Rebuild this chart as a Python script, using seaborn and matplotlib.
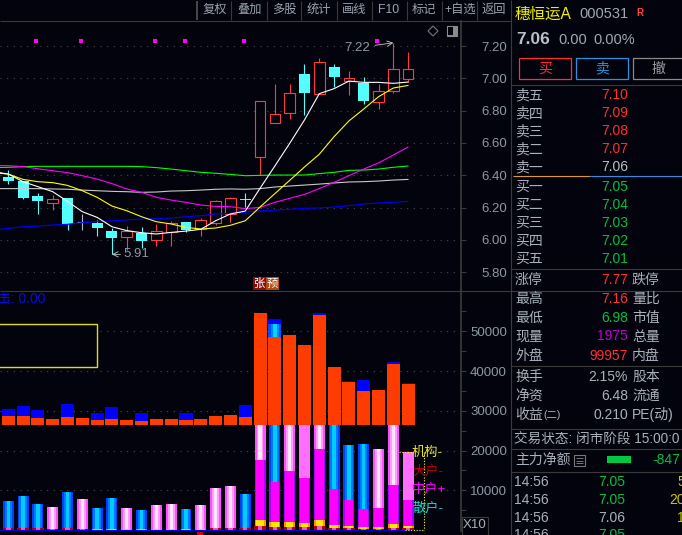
import numpy as np
import seaborn as sns
import matplotlib
matplotlib.use("Agg")
import matplotlib.pyplot as plt
from matplotlib.patches import Rectangle, Polygon

W, H = 682, 535
BG = "#03030d"
GRID = "#4a4a4a"
FRAME = "#3a3a3a"
LABEL = "#8d97a3"

# candles, index 0 is the leftmost one
opens = [6.391, 6.364, 6.271, 6.230, 6.259, 6.108, 6.106, 6.055, 6.020, 6.042, 6.001, 6.048, 6.110, 6.065,
         6.106, 6.158, 6.255, 6.510, 6.725, 6.787, 7.027, 6.905, 7.070, 6.983, 6.973, 6.855, 6.923, 6.998]
closes = [6.364, 6.259, 6.240, 6.251, 6.098, 6.108, 6.073, 6.013, 6.055, 5.995, 6.052, 6.102, 6.061, 6.123,
          6.238, 6.257, 6.245, 6.857, 6.777, 6.907, 6.911, 7.099, 7.008, 7.000, 6.861, 6.919, 7.055, 7.055]
highs = [6.432, 6.364, 6.288, 6.275, 6.259, 6.158, 6.121, 6.071, 6.085, 6.077, 6.098, 6.114, 6.110, 6.135,
         6.246, 6.265, 6.288, 6.857, 6.965, 6.965, 7.087, 7.126, 7.087, 7.045, 7.008, 6.965, 7.220, 7.160]
lows = [6.343, 6.253, 6.162, 6.187, 6.061, 6.061, 6.024, 5.910, 5.937, 5.947, 5.962, 5.962, 6.050, 6.024,
        6.092, 6.110, 6.205, 6.401, 6.725, 6.748, 6.773, 6.905, 6.944, 6.897, 6.843, 6.812, 6.911, 6.980]

# moving averages, these start one candle before the left edge
ma_days = list(range(-1, 28))
ma_white = [6.422, 6.407, 6.360, 6.329, 6.298, 6.238, 6.174, 6.139, 6.081, 6.057, 6.044, 6.036, 6.046, 6.054, 6.065,
            6.118, 6.160, 6.178, 6.319, 6.457, 6.597, 6.742, 6.905, 6.936, 6.983, 6.975, 6.975, 6.969, 6.977]
ma_yellow = [6.416, 6.407, 6.374, 6.360, 6.354, 6.337, 6.304, 6.263, 6.209, 6.180, 6.143, 6.112, 6.098, 6.077, 6.067,
             6.073, 6.090, 6.118, 6.203, 6.286, 6.368, 6.451, 6.530, 6.639, 6.736, 6.810, 6.886, 6.940, 6.956]
ma_magenta = [6.461, 6.459, 6.453, 6.440, 6.428, 6.416, 6.397, 6.376, 6.348, 6.315, 6.294, 6.263, 6.246, 6.232, 6.215,
              6.207, 6.205, 6.193, 6.201, 6.232, 6.257, 6.281, 6.317, 6.356, 6.397, 6.438, 6.476, 6.525, 6.575]
ma_green = [6.447, 6.449, 6.453, 6.455, 6.455, 6.455, 6.455, 6.455, 6.455, 6.455, 6.453, 6.447, 6.438, 6.428, 6.418,
            6.412, 6.405, 6.397, 6.399, 6.401, 6.401, 6.401, 6.410, 6.418, 6.430, 6.432, 6.438, 6.449, 6.457]
ma_gray = [6.317, 6.317, 6.317, 6.317, 6.315, 6.313, 6.308, 6.304, 6.300, 6.298, 6.294, 6.296, 6.302, 6.304, 6.308,
           6.313, 6.315, 6.313, 6.317, 6.327, 6.333, 6.339, 6.345, 6.352, 6.358, 6.360, 6.364, 6.370, 6.374]
ma_blue = [6.061, 6.071, 6.081, 6.085, 6.092, 6.096, 6.106, 6.112, 6.118, 6.123, 6.129, 6.131, 6.135, 6.143, 6.149,
           6.160, 6.164, 6.170, 6.180, 6.184, 6.189, 6.195, 6.197, 6.203, 6.211, 6.222, 6.228, 6.232, 6.238]

signal_days = [2, 5, 10, 12, 16, 25]
signal_price = [7.231] * 6

# upper volume block
up_orange = [28680, 28680, 28177, 27925, 28429, 28177, 27674, 27925, 27674, 27422, 27925, 27925, 27674, 27925,
             28680, 28932, 28429, 54593, 48555, 49058, 46542, 54090, 41008, 37234, 34970, 35221, 41762, 36647]
up_blue = [30441, 31196, 30190, 0, 31699, 0, 29435, 30944, 0, 29435, 0, 0, 29435, 0,
           0, 0, 31448, 0, 53083, 0, 0, 54593, 0, 37485, 37737, 0, 42265, 36982]
up_cyan = [0] * 18 + [51825] + [0] * 9

# lower volume block, the tall ones run into the block above
low_blue = [7296, 8554, 6541, 0, 9560, 0, 5535, 8051, 0, 5032, 0, 0, 5283, 0,
            0, 0, 9057, 0, 26400, 0, 0, 0, 26400, 21384, 21636, 0, 0, 0]
low_pink = [0, 0, 0, 5786, 0, 7799, 0, 0, 5535, 0, 6290, 6541, 0, 6290,
            10566, 11070, 0, 26400, 0, 26400, 0, 26400, 0, 0, 0, 20378, 26400, 0]
low_flat = [0] * 20 + [26400] + [0] * 6 + [19623]
low_magenta = [0] * 17 + [17611, 12076, 14843, 13082, 20378, 10315, 7547, 5283, 5535, 11321, 7547]
low_yellow = [0, 0, 0, 0, 0, 0, 252, 252, 252, 252, 252, 252, 252, 252,
              0, 0, 0, 2516, 2013, 2013, 1761, 2516, 1258, 1006, 755, 755, 1509, 1006]
low_red = [419, 419, 419, 252, 419, 252, 0, 0, 0, 0, 0, 0, 0, 0,
           419, 419, 419, 1006, 755, 755, 755, 1006, 503, 503, 252, 252, 503, 587]

price_ticks = [5.8, 6.0, 6.2, 6.4, 6.6, 6.8, 7.0, 7.2]
header_labels = ["复权", "叠加", "多股", "统计", "画线", "F10", "标记", "+自选", "返回"]
ask_names = ["卖五", "卖四", "卖三", "卖二", "卖一"]
ask_prices = ["7.10", "7.09", "7.08", "7.07", "7.06"]
bid_names = ["买一", "买二", "买三", "买四", "买五"]
bid_prices = ["7.05", "7.04", "7.03", "7.02", "7.01"]

sns.set_theme(style="dark", rc={"figure.facecolor": BG, "axes.facecolor": BG, "savefig.facecolor": BG})
plt.rcParams["font.family"] = ["Liberation Sans", "Noto Sans CJK SC"]

days = np.arange(len(opens))
fig = plt.figure(figsize=(W / 100, H / 100), dpi=100)


def panel(x0, y0, x1, y1):
    return fig.add_axes([x0 / W, 1 - y1 / H, (x1 - x0) / W, (y1 - y0) / H])


def style_axis(ax, ticks, minor=()):
    for side in ["left", "top", "bottom"]:
        ax.spines[side].set_visible(False)
    ax.spines["right"].set_color(FRAME)
    ax.set_xlim(-0.56, 30.57)
    ax.set_xticks([])
    ax.set_xlabel("")
    ax.set_ylabel("")
    ax.yaxis.tick_right()
    ax.set_yticks(ticks)
    ax.set_yticks(list(minor), minor=True)
    ax.tick_params(axis="y", which="both", length=3.6, color=FRAME, width=0.8, right=True, left=False)
    ax.tick_params(axis="y", which="major", labelcolor=LABEL, labelsize=9.5, pad=29.5)
    ax.grid(True, axis="y", color=GRID, linewidth=0.8, linestyle=(0, (1, 5)))
    ax.set_axisbelow(True)


def bars(ax, values, layers):
    # nested bars fake the horizontal gradient of the original
    for width, color in layers:
        sns.barplot(x=days, y=values, native_scale=True, width=width, color=color, saturation=1,
                    linewidth=0, errorbar=None, ax=ax)


# price panel
ax = panel(0, 21, 461, 291)
for i in days:
    if closes[i] > opens[i]:
        col = "#ff3c3c"
    elif closes[i] < opens[i]:
        col = "#54ffff"
    else:
        col = "#b4b4c4"
    ax.vlines(i, lows[i], highs[i], color=col, linewidth=0.8, zorder=2)
    if closes[i] > opens[i]:
        ax.bar(i, closes[i] - opens[i], 0.72, bottom=opens[i], facecolor=BG, edgecolor=col, linewidth=0.8, zorder=3)
    elif closes[i] < opens[i]:
        ax.bar(i, opens[i] - closes[i], 0.74, bottom=closes[i], color=col, linewidth=0, zorder=3)
    else:
        ax.hlines(opens[i], i - 0.37, i + 0.37, color=col, linewidth=0.8, zorder=3)

for series, col in [(ma_blue, "#0000ff"), (ma_gray, "#c8c8c8"), (ma_green, "#00ff00"),
                    (ma_magenta, "#ff00ff"), (ma_yellow, "#ffff00"), (ma_white, "#ffffff")]:
    sns.lineplot(x=ma_days, y=series, color=col, linewidth=0.8, errorbar=None, ax=ax, zorder=4)

sns.scatterplot(x=np.array(signal_days) - 0.1, y=signal_price, marker="s", s=6, color="#ff00ff", linewidth=0,
                ax=ax, zorder=4)
ax.annotate("7.22", xy=(26, 7.22), xytext=(-16.5, -3.6), textcoords="offset points", color=LABEL, fontsize=9.5,
            ha="right", va="center", arrowprops=dict(arrowstyle="->", color="#c8c8c8", lw=0.6, shrinkA=1, shrinkB=0))
ax.annotate("5.91", xy=(7, 5.91), xytext=(8.5, 0), textcoords="offset points", color=LABEL, fontsize=9.5,
            ha="left", va="center", arrowprops=dict(arrowstyle="->", color="#c8c8c8", lw=0.6, shrinkA=0, shrinkB=0))
ax.set_ylim(5.683, 7.355)
style_axis(ax, price_ticks)
ax.set_yticklabels([f"{v:.2f}" for v in price_ticks], ha="right")

# volume panel, upper block floats on its own axis
base = 26415
ax_up = panel(0, 291, 461, 425)
bars(ax_up, up_blue, [(0.88, "#0000ff")])
bars(ax_up, up_cyan, [(0.88, "#0050ff"), (0.5, "#0088ff"), (0.26, "#00d8ff")])
bars(ax_up, up_orange, [(0.88, "#ff3c00")])
ax_up.set_ylim(base, 60126)
style_axis(ax_up, [30000, 40000, 50000], [35000, 45000, 55000])
ax_up.set_yticklabels(["30000", "40000", "50000"], ha="right")
ax_up.add_patch(Rectangle((-1, 41000), 7.0, 10800, facecolor=BG, edgecolor="#dcdc1e", linewidth=1, zorder=6))

ax_low = panel(0, 425, 461, 531)
bars(ax_low, low_blue, [(0.74, "#0040ff"), (0.5, "#0078ff"), (0.24, "#00ccff")])
bars(ax_low, low_pink, [(0.74, "#ff50ff"), (0.46, "#ff9cff"), (0.22, "#ffe6ff")])
bars(ax_low, low_flat, [(0.74, "#ff6eff")])
bars(ax_low, low_magenta, [(0.74, "#aa00ff"), (0.58, "#ff00ff")])
bars(ax_low, low_yellow, [(0.74, "#ff9000"), (0.5, "#ffe800")])
bars(ax_low, low_red, [(0.78, "#b00000"), (0.3, "#ff50c8")])
ax_low.axhline(0, color="#0000e0", linewidth=0.8, xmax=0.89, zorder=5)
ax_low.set_ylim(-250, base)
style_axis(ax_low, [10000, 20000], [5000, 15000, 25000])
ax_low.set_yticklabels(["10000", "20000"], ha="right")

# everything else sits on a pixel overlay
ui = fig.add_axes([0, 0, 1, 1], facecolor="none", zorder=5)
ui.set_xlim(0, W)
ui.set_ylim(H, 0)
ui.axis("off")


def put(x, y, s, color="#a9b1ba", ha="left", size=10, **kw):
    ui.text(x, y, s, color=color, ha=ha, va="center", fontsize=size, **kw)


def hline(y, x0=0, x1=W, color=FRAME, lw=0.8, **kw):
    ui.plot([x0, x1], [y, y], color=color, linewidth=lw, solid_capstyle="butt", **kw)


def vline(x, y0, y1, color=FRAME, lw=0.8, **kw):
    ui.plot([x, x], [y0, y1], color=color, linewidth=lw, solid_capstyle="butt", **kw)


hline(20.5, 0, 511)
hline(291)
vline(197, 1, 20, "#555555", 1.2)
for x in [231, 267, 301, 337, 372, 407, 442, 477]:
    vline(x, 1, 20)
for x, s in zip([215, 250, 284, 319, 354, 389, 424, 460, 494], header_labels):
    put(x, 10, s, "#9aa3ad", ha="center", size=8.8)
vline(511, 0, H)

# top right icons of the chart
ui.add_patch(Polygon([(433, 26), (438, 31), (433, 36), (428, 31)], fill=False, edgecolor="#777777", linewidth=0.8))
ui.add_patch(Rectangle((447, 26), 10, 10, facecolor="#8a8a8a", edgecolor="#8a8a8a", linewidth=0.8))
ui.add_patch(Rectangle((448, 27), 5, 8, facecolor=BG, linewidth=0))

# 涨预 badge
ui.add_patch(Rectangle((253, 277), 13, 13, facecolor="#8a0c0c", linewidth=0))
ui.add_patch(Rectangle((266, 277), 13, 13, facecolor="#b04a10", linewidth=0))
put(259.5, 283.5, "张", "#ffffff", ha="center", size=8.2)
put(272.5, 283.5, "预", "#ffffff", ha="center", size=8.2)

put(-3, 299, "击: 0.00", "#0a0ae0", size=10)
dots = (0, (1, 1.5))
put(412, 453, "机构-", "#e6e61e", size=9.5)
put(412, 471, "大户-", "#c00000", size=9.5)
put(412, 490, "中户+", "#ff00ff", size=9.5)
put(412, 509, "散户-", "#00e0e0", size=9.5)
vline(424, 452, 530, "#ffff00", linestyle=dots)
hline(452, 399, 412, "#ffff00", linestyle=dots)
hline(530, 405, 424, "#ffff00", linestyle=dots)
ui.add_patch(Rectangle((197, 532), 6, 3, facecolor="#d00000", linewidth=0))
ui.add_patch(Rectangle((462, 517), 26, 20, facecolor=BG, edgecolor=FRAME, linewidth=0.8))
put(475, 525, "X10", "#a9b1ba", ha="center", size=9.5)

# quote panel
put(515, 14, "穗恒运A", "#f0f000", size=11.2)
put(579, 14, "000531", "#a0a9b3", size=10.5)
put(636, 13, "R", "#ff4040", size=7, fontweight="bold")
put(516, 39, "7.06", "#b9c0c8", size=12.5, fontweight="bold")
put(558, 40, "0.00", "#a0a9b3", size=10.5)
put(593, 40, "0.00%", "#a0a9b3", size=10.5)

for x0, x1, col, s, tcol in [(519, 571, "#ff3030", "买", "#ff3030"), (576, 628, "#2f8fe0", "卖", "#2f8fe0"),
                             (633, 684, "#8a8a8a", "撤", "#9a9a9a")]:
    ui.add_patch(Rectangle((x0, 58), x1 - x0, 21, fill=False, edgecolor=col, linewidth=0.9))
    put((x0 + x1) / 2, 68.5, s, tcol, ha="center", size=10)

hline(85, 511, W)
hline(176, 513, 590, "#e09a20")
hline(176, 590, W, "#2f8fe0")
hline(269, 511, W)

ask_y = [95, 113, 131, 149, 167]
for y, name, p in zip(ask_y, ask_names, ask_prices):
    put(515, y, name)
    put(628, y, p, "#ff3030" if p != "7.06" else "#b9c0c8", ha="right")
bid_y = [187, 205, 223, 241, 259]
for y, name, p in zip(bid_y, bid_names, bid_prices):
    put(515, y, name)
    put(628, y, p, "#00c040", ha="right")

rows = [(280, "涨停", "7.77", "#ff3030", "跌停"), (299, "最高", "7.16", "#ff3030", "量比"),
        (318, "最低", "6.98", "#00c040", "市值"), (336.5, "现量", "1975", "#c000d0", "总量"),
        (356, "外盘", "99957", "#ff3030", "内盘"), (377, "换手", "2.15%", "#a9b1ba", "股本"),
        (396, "净资", "6.48", "#a9b1ba", "流通"), (415, "收益", "0.210", "#a9b1ba", "PE(动)")]
for y, left, val, col, right in rows:
    put(515, y, left)
    put(628, y, val, col, ha="right")
    put(632, y, right)
put(543, 415, "(二)", size=7.5)

hline(366, 511, W)
hline(429, 511, W)
hline(449, 511, W)
hline(472, 511, W)
put(514, 439, "交易状态: 闭市阶段 15:00:0", size=9.8)
put(515, 460, "主力净额")
ui.add_patch(Rectangle((574, 455), 11, 11, fill=False, edgecolor="#777777", linewidth=0.8))
for y in [458, 460.5, 463]:
    hline(y, 576, 583, "#777777", 0.7)
ui.add_patch(Rectangle((607, 456), 24, 7, facecolor="#00c840", linewidth=0))
put(652, 460, "-847", "#00c040")

for y, p, col, vol, vx in [(482, "7.05", "#00c040", "5", 677), (500, "7.05", "#00c040", "20", 669),
                           (518, "7.06", "#a9b1ba", "1", 677), (535, "7.05", "#00c040", "", 677)]:
    put(514, y, "14:56", "#a9b1ba")
    put(625, y, p, col, ha="right")
    if vol:
        put(vx, y, vol, "#c8c800")

fig.savefig("out.png", dpi=100)
